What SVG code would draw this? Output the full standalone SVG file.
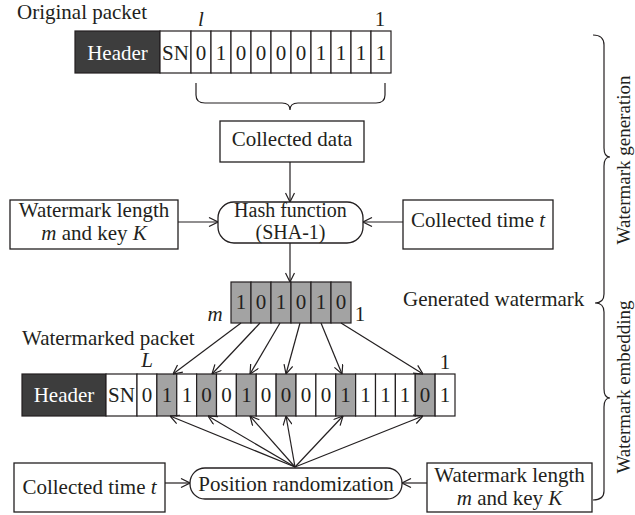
<svg xmlns="http://www.w3.org/2000/svg" width="635" height="515" viewBox="0 0 635 515">
  <style>
    text { font-family: "Liberation Serif", "Times New Roman", serif; font-size: 21px; fill: #231f20; }
    .c { text-anchor: middle; }
    .i { font-style: italic; }
    .w { fill: #ffffff; }
    .two { font-size: 20px; }
    .box { fill: #ffffff; stroke: #231f20; stroke-width: 1.3; }
    .cell { fill: #ffffff; stroke: #231f20; stroke-width: 1.2; }
    .gcell { fill: #a3a3a3; stroke: #231f20; stroke-width: 1.2; }
    .hdr { fill: #3d3d3d; stroke: #231f20; stroke-width: 1.2; }
    .ln { fill: none; stroke: #231f20; stroke-width: 1.2; }
    .rot { font-size: 19px; text-anchor: middle; }
  </style>
  <defs>
    <marker id="arr" viewBox="0 0 10 10" refX="10" refY="5" markerWidth="10" markerHeight="10" markerUnits="userSpaceOnUse" orient="auto">
      <path d="M1,0.5 L10,5 L1,9.5" fill="none" stroke="#231f20" stroke-width="1.2"/>
    </marker>
  </defs>

  <!-- original packet -->
  <g id="original-packet">
    <text x="17" y="19">Original packet</text>
    <rect class="hdr" x="75" y="31" width="85" height="42"/>
    <text class="c w" x="117.5" y="60">Header</text>
    <rect class="cell" x="160" y="31" width="31" height="42"/>
    <text class="c" x="175.5" y="60">SN</text>
    <g>
      <rect class="cell" x="191" y="31" width="20" height="42"/>
      <rect class="cell" x="211" y="31" width="20" height="42"/>
      <rect class="cell" x="231" y="31" width="20" height="42"/>
      <rect class="cell" x="251" y="31" width="20" height="42"/>
      <rect class="cell" x="271" y="31" width="20" height="42"/>
      <rect class="cell" x="291" y="31" width="20" height="42"/>
      <rect class="cell" x="311" y="31" width="20" height="42"/>
      <rect class="cell" x="331" y="31" width="20" height="42"/>
      <rect class="cell" x="351" y="31" width="20" height="42"/>
      <rect class="cell" x="371" y="31" width="20" height="42"/>
    </g>
    <g>
      <text class="c" x="201" y="60">0</text>
      <text class="c" x="221" y="60">1</text>
      <text class="c" x="241" y="60">0</text>
      <text class="c" x="261" y="60">0</text>
      <text class="c" x="281" y="60">0</text>
      <text class="c" x="301" y="60">0</text>
      <text class="c" x="321" y="60">1</text>
      <text class="c" x="341" y="60">1</text>
      <text class="c" x="361" y="60">1</text>
      <text class="c" x="381" y="60">1</text>
    </g>
    <text class="c i" x="201" y="26">l</text>
    <text class="c" x="380" y="26">1</text>
    <!-- brace under the data bits -->
    <path class="ln" d="M196,83 L196,95 Q196,103 205,103 L282,103 Q290,103 290,110 Q290,103 298,103 L376,103 Q385,103 385,95 L385,83"/>
  </g>

  <g id="collected-data">
    <rect class="box" x="220" y="121" width="144" height="41"/>
    <text class="c" x="292" y="146">Collected data</text>
  </g>

  <g id="hash-function">
    <rect class="box" x="218" y="202" width="145" height="41" rx="16" ry="16"/>
    <text class="c two" x="290.5" y="217">Hash function</text>
    <text class="c two" x="290.5" y="239">(SHA-1)</text>
  </g>

  <g id="wm-length-top">
    <rect class="box" x="10" y="200" width="168" height="49"/>
    <text class="c" x="94" y="217">Watermark length</text>
    <text class="c" x="94" y="240"><tspan class="i">m</tspan> and key <tspan class="i">K</tspan></text>
  </g>

  <g id="collected-time-top">
    <rect class="box" x="403" y="200" width="150" height="49"/>
    <text class="c" x="478" y="227">Collected time <tspan class="i">t</tspan></text>
  </g>

  <g id="generated-watermark">
    <rect class="gcell" x="231" y="282" width="20" height="41"/>
    <rect class="gcell" x="251" y="282" width="20" height="41"/>
    <rect class="gcell" x="271" y="282" width="20" height="41"/>
    <rect class="gcell" x="291" y="282" width="20" height="41"/>
    <rect class="gcell" x="311" y="282" width="20" height="41"/>
    <rect class="gcell" x="331" y="282" width="20" height="41"/>
    <text class="c" x="241" y="309">1</text>
    <text class="c" x="261" y="309">0</text>
    <text class="c" x="281" y="309">1</text>
    <text class="c" x="301" y="309">0</text>
    <text class="c" x="321" y="309">1</text>
    <text class="c" x="341" y="309">0</text>
    <text class="c i" x="215" y="321">m</text>
    <text class="c" x="360" y="321">1</text>
    <text x="403" y="306">Generated watermark</text>
  </g>

  <g id="watermarked-packet">
    <text x="22" y="345">Watermarked packet</text>
    <text class="c i" x="147" y="367">L</text>
    <text class="c" x="445" y="369">1</text>
    <rect class="hdr" x="22" y="374" width="84" height="42"/>
    <text class="c w" x="64" y="402">Header</text>
    <rect class="cell" x="106" y="374" width="31" height="42"/>
    <text class="c" x="121.5" y="402">SN</text>
    <rect class="cell" x="137" y="374" width="19.875" height="42"/>
    <rect class="gcell" x="156.875" y="374" width="19.875" height="42"/>
    <rect class="cell" x="176.75" y="374" width="19.875" height="42"/>
    <rect class="gcell" x="196.625" y="374" width="19.875" height="42"/>
    <rect class="cell" x="216.5" y="374" width="19.875" height="42"/>
    <rect class="gcell" x="236.375" y="374" width="19.875" height="42"/>
    <rect class="cell" x="256.25" y="374" width="19.875" height="42"/>
    <rect class="gcell" x="276.125" y="374" width="19.875" height="42"/>
    <rect class="cell" x="296" y="374" width="19.875" height="42"/>
    <rect class="cell" x="315.875" y="374" width="19.875" height="42"/>
    <rect class="gcell" x="335.75" y="374" width="19.875" height="42"/>
    <rect class="cell" x="355.625" y="374" width="19.875" height="42"/>
    <rect class="cell" x="375.5" y="374" width="19.875" height="42"/>
    <rect class="cell" x="395.375" y="374" width="19.875" height="42"/>
    <rect class="gcell" x="415.25" y="374" width="19.875" height="42"/>
    <rect class="cell" x="435.125" y="374" width="19.875" height="42"/>
    <text class="c" x="147" y="402">0</text>
    <text class="c" x="167" y="402">1</text>
    <text class="c" x="187" y="402">1</text>
    <text class="c" x="206.5" y="402">0</text>
    <text class="c" x="226.5" y="402">0</text>
    <text class="c" x="246.5" y="402">1</text>
    <text class="c" x="266" y="402">0</text>
    <text class="c" x="286" y="402">0</text>
    <text class="c" x="306" y="402">0</text>
    <text class="c" x="326" y="402">0</text>
    <text class="c" x="345.5" y="402">1</text>
    <text class="c" x="365.5" y="402">1</text>
    <text class="c" x="385.5" y="402">1</text>
    <text class="c" x="405" y="402">1</text>
    <text class="c" x="425" y="402">0</text>
    <text class="c" x="445" y="402">1</text>
  </g>

  <g id="position-randomization">
    <rect class="box" x="190" y="468" width="212" height="31" rx="15" ry="15"/>
    <text class="c" x="296" y="491">Position randomization</text>
  </g>

  <g id="collected-time-bottom">
    <rect class="box" x="14" y="463" width="151" height="49"/>
    <text class="c" x="89.5" y="494">Collected time <tspan class="i">t</tspan></text>
  </g>

  <g id="wm-length-bottom">
    <rect class="box" x="427" y="463" width="165" height="49"/>
    <text class="c" x="509.5" y="482">Watermark length</text>
    <text class="c" x="509.5" y="505"><tspan class="i">m</tspan> and key <tspan class="i">K</tspan></text>
  </g>

  <g id="phase-braces">
    <path class="ln" d="M593,35 Q604,35 604,45 L604,148 Q604,157 610,157 Q604,157 604,166 L604,294 Q604,303 595,303 Q604,303 604,312 L604,389 Q604,398 610,398 Q604,398 604,407 L604,491 Q604,500 593,500"/>
    <text class="rot" transform="translate(630,160) rotate(-90)">Watermark generation</text>
    <text class="rot" transform="translate(630,387) rotate(-90)">Watermark embedding</text>
  </g>

  <g id="connectors" class="ln" marker-end="url(#arr)">
    <path d="M290,162 L290,202"/>
    <path d="M178,222 L218,222"/>
    <path d="M403,222 L363,222"/>
    <path d="M290,243 L290,282"/>
    <!-- watermark bits to embedding positions -->
    <path d="M241,323 L173,374"/>
    <path d="M260,323 L212,374"/>
    <path d="M280,323 L250,374"/>
    <path d="M300,323 L286,374"/>
    <path d="M321,323 L342,374"/>
    <path d="M341,323 L423,374"/>
    <!-- position randomization to selected positions -->
    <path d="M295,467 L170,416"/>
    <path d="M295,467 L208,416"/>
    <path d="M295,467 L250,416"/>
    <path d="M295,467 L286,416"/>
    <path d="M295,467 L343,416"/>
    <path d="M295,467 L423,416"/>
    <path d="M165,483 L190,483"/>
    <path d="M427,483 L402,483"/>
  </g>
</svg>
